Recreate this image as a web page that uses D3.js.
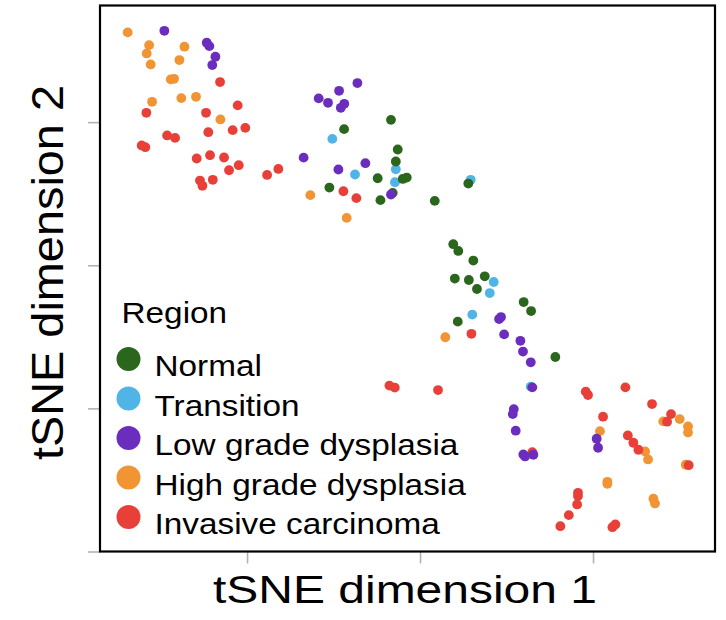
<!DOCTYPE html>
<html>
<head>
<meta charset="utf-8">
<script src="https://cdn.jsdelivr.net/npm/d3@7"></script>
<style>
  html, body { margin: 0; padding: 0; background: #fff; }
  svg { display: block; }
  text { font-family: "Liberation Sans", Arial, Helvetica, sans-serif; fill: #000; }
</style>
</head>
<body>
<svg id="chart" width="726" height="620"></svg>
<script>
// ---- Data (tSNE coordinates) ----
const regions = ["Normal", "Transition", "Low grade dysplasia", "High grade dysplasia", "Invasive carcinoma"];
const regionColors = ["#2b661d", "#50b4e6", "#6a2dbe", "#f09434", "#e84038"];

const normal = [
  [-1.68, 10.16], [-4.39, 9.51], [-1.29, 8.09], [-1.40, 7.25], [-2.45, 6.08], [-1.00, 6.03],
  [-0.77, 6.13], [2.79, 5.71], [-5.24, 5.43], [-1.58, 5.06], [-2.29, 4.55], [0.85, 4.50],
  [1.92, 1.47], [2.21, 1.00], [3.08, 0.33], [2.01, -0.93], [2.82, -1.03], [3.74, -0.77],
  [3.29, -1.66], [5.99, -2.57], [6.42, -3.20], [2.18, -3.94], [7.82, -6.41]
];
const transition = [
  [-5.07, 8.83], [-1.40, 6.71], [-3.76, 6.34], [-1.45, 5.80], [2.93, 5.97],
  [4.26, -1.17], [4.03, -1.94], [3.02, -3.45], [6.40, -8.48]
];
const lowGrade = [
  [-14.78, 16.38], [-12.33, 15.55], [-12.18, 15.31], [-11.83, 14.57], [-12.01, 13.99],
  [-6.73, 7.52], [-3.62, 12.73], [-4.68, 12.19], [-5.86, 11.66], [-5.32, 11.35],
  [-4.38, 11.28], [-4.58, 11.00], [-3.16, 7.13], [-4.72, 6.69], [-1.68, 4.94],
  [4.57, -3.76], [4.68, -3.62], [4.86, -4.83], [5.80, -5.28], [5.95, -6.03],
  [6.40, -6.78], [6.49, -8.53], [5.42, -10.05], [5.36, -10.40], [5.53, -11.56],
  [5.97, -13.22], [6.07, -13.36], [6.55, -13.24], [10.21, -12.12], [10.29, -12.75]
];
const highGrade = [
  [-16.90, 16.27], [-15.66, 15.38], [-15.80, 14.80], [-13.62, 15.27], [-15.57, 14.03],
  [-13.91, 14.34], [-14.41, 12.99], [-14.22, 13.03], [-15.49, 11.42], [-13.80, 11.68],
  [-12.95, 11.77], [-11.54, 10.19], [-6.34, 4.90], [-4.24, 3.31], [1.46, -5.03],
  [10.40, -11.59], [14.06, -10.91], [15.01, -10.75], [15.49, -11.26], [15.49, -11.68],
  [13.01, -13.01], [13.18, -13.57], [15.36, -13.94], [10.83, -15.13], [10.83, -15.27],
  [13.49, -16.31], [13.58, -16.64]
];
const invasive = [
  [-11.56, 12.80], [-10.54, 11.17], [-15.82, 10.65], [-12.37, 10.65], [-10.83, 9.44],
  [-10.10, 9.60], [-12.24, 9.30], [-14.62, 9.07], [-14.16, 8.90], [-16.09, 8.37],
  [-15.88, 8.25], [-12.91, 7.46], [-12.14, 7.69], [-11.33, 7.53], [-10.48, 6.99],
  [-11.04, 6.64], [-12.72, 5.92], [-12.58, 5.55], [-11.98, 5.97], [-8.84, 6.31],
  [-8.19, 6.73], [-4.43, 5.17], [-3.68, 4.69], [2.97, -4.79], [-1.77, -8.41],
  [-1.46, -8.55], [1.04, -8.72], [6.49, -13.06], [9.58, -8.83], [9.71, -9.07],
  [11.87, -8.53], [13.41, -9.70], [10.58, -10.58], [14.51, -10.40], [14.28, -10.93],
  [12.01, -11.89], [12.33, -12.40], [12.62, -12.89], [15.53, -13.97], [9.13, -15.90],
  [9.13, -16.13], [9.08, -16.71], [8.60, -17.46], [8.11, -18.23], [11.12, -18.30],
  [11.29, -18.11]
];
const xTicks = [-10, 0, 10];
const yTicks = [-20, -10, 0, 10];
const xDomain = [-18.5, 17.05];
const yDomain = [-20, 18.15];
const xTitle = "tSNE dimension 1";
const yTitle = "tSNE dimension 2";
const legendTitle = "Region";

// series grouped by region index; drawing order as in the picture
const series = [normal, transition, lowGrade, highGrade, invasive];
const drawOrder = [3, 4, 1, 0, 2];

// ---- Layout ----
const svg = d3.select("#chart");
const box = { left: 100, right: 715, top: 5.5, bottom: 551.5 };
const x = d3.scaleLinear().domain(xDomain).range([box.left, box.right]);
const y = d3.scaleLinear().domain(yDomain).range([box.bottom, box.top]);

// axes (ticks only, grey, no labels)
const gx = svg.append("g")
  .attr("transform", `translate(0,${box.bottom})`)
  .call(d3.axisBottom(x).tickValues(xTicks).tickSize(12).tickFormat(""));
const gy = svg.append("g")
  .attr("transform", `translate(${box.left},0)`)
  .call(d3.axisLeft(y).tickValues(yTicks).tickSize(12).tickFormat(""));
[gx, gy].forEach(g => {
  g.select(".domain").remove();
  g.selectAll(".tick line").attr("stroke", "#b3b3b3").attr("stroke-width", 1.6);
});

// points
drawOrder.forEach(i => {
  svg.append("g").selectAll("circle")
    .data(series[i])
    .join("circle")
    .attr("cx", d => x(d[0]))
    .attr("cy", d => y(d[1]))
    .attr("r", 4.9)
    .attr("fill", regionColors[i]);
});

// frame
svg.append("rect")
  .attr("x", box.left).attr("y", box.top)
  .attr("width", box.right - box.left).attr("height", box.bottom - box.top)
  .attr("fill", "none").attr("stroke", "#000").attr("stroke-width", 2.2);

// axis titles
svg.append("text")
  .attr("x", 213).attr("y", 603)
  .attr("font-size", 39)
  .attr("textLength", 384).attr("lengthAdjust", "spacingAndGlyphs")
  .text(xTitle);
svg.append("text")
  .attr("transform", "translate(63,272.5) rotate(-90)")
  .attr("text-anchor", "middle")
  .attr("font-size", 44)
  .attr("textLength", 375).attr("lengthAdjust", "spacingAndGlyphs")
  .text(yTitle);

// legend
const sx = 1.13;
const leg = svg.append("g");
leg.append("text")
  .attr("transform", `translate(121.5,323) scale(${sx},1)`)
  .attr("font-size", 29.5)
  .text(legendTitle);
const items = leg.selectAll("g.item")
  .data(regions)
  .join("g").attr("class", "item")
  .attr("transform", (d, i) => `translate(0,${i * 39.5})`);
items.append("circle")
  .attr("cx", 128.5).attr("cy", 359)
  .attr("r", 12)
  .attr("fill", (d, i) => regionColors[i]);
items.append("text")
  .attr("transform", `translate(154.5,376) scale(${sx},1)`)
  .attr("font-size", 29.5)
  .text(d => d);
</script>
</body>
</html>
